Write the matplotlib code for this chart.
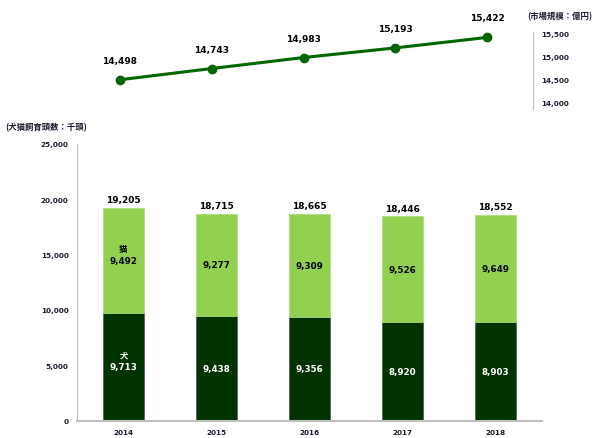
import matplotlib
matplotlib.use("Agg")
import matplotlib.pyplot as plt
from matplotlib.ticker import FuncFormatter

plt.rcParams['font.family'] = ['DejaVu Sans', 'Noto Sans CJK JP']

years = ['2014', '2015', '2016', '2017', '2018']
dogs = [9713, 9438, 9356, 8920, 8903]
cats = [9492, 9277, 9309, 9526, 9649]
totals = [19205, 18715, 18665, 18446, 18552]
market = [14498, 14743, 14983, 15193, 15422]

dog_color = '#003300'
cat_color = '#92D050'
line_color = '#006600'
text_color = '#1a1a2e'
jp = ['Noto Sans CJK JP', 'DejaVu Sans']

fig = plt.figure(figsize=(5.97, 4.39), dpi=100)

# bars: head counts
ax = fig.add_axes([77/597, 17.5/439, 465/597, 276.5/439])
x = range(len(years))
ax.bar(x, dogs, width=0.45, color=dog_color, edgecolor='#4a5a4a', linewidth=0.5)
ax.bar(x, cats, width=0.45, bottom=dogs, color=cat_color, edgecolor='#a8dc78', linewidth=0.5)
ax.set_xlim(-0.5, 4.5)
ax.set_ylim(0, 25000)
ax.set_yticks(range(0, 25001, 5000))
ax.yaxis.set_major_formatter(FuncFormatter(lambda v, p: f'{int(v):,}'))
ax.set_xticks(list(x))
ax.set_xticklabels(years)
ax.tick_params(length=0, labelsize=5.2, colors=text_color, pad=6)
for lab in ax.get_xticklabels() + ax.get_yticklabels():
    lab.set_fontweight('bold')
for s in ['top', 'right']:
    ax.spines[s].set_visible(False)
ax.spines['left'].set_color('#bfbfbf')
ax.spines['bottom'].set_color('#bfbfbf')
ax.spines['bottom'].set_linewidth(1.5)

for i in x:
    ax.text(i, dogs[i] / 2, f'{dogs[i]:,}', ha='center', va='center',
            color='white', fontsize=6.3, fontweight='bold')
    ax.text(i, dogs[i] + cats[i] / 2, f'{cats[i]:,}', ha='center', va='center',
            color='black', fontsize=6.3, fontweight='bold')
    ax.text(i, totals[i] + 350, f'{totals[i]:,}', ha='center', va='bottom',
            color='black', fontsize=6.5, fontweight='bold')
ax.text(0, dogs[0] / 2 + 1100, '犬', ha='center', va='center', color='white',
        fontsize=6, fontweight='bold', family=jp)
ax.text(0, dogs[0] + cats[0] / 2 + 1100, '猫', ha='center', va='center', color='black',
        fontsize=6, fontweight='bold', family=jp)
fig.text(5/597, 1 - 128/439, '(犬猫飼育頭数：千頭)', ha='left', va='center',
         fontsize=6, fontweight='bold', family=jp, color=text_color)

# line: market size
lx = fig.add_axes([74/597, 1 - 110/439, 459/597, 77/439])
lx.plot(list(x), market, color=line_color, linewidth=2.2, marker='o', markersize=6)
lx.set_xlim(-0.5, 4.5)
lx.set_ylim(13860, 15540)
lx.set_yticks(range(14000, 15501, 500))
lx.yaxis.set_major_formatter(FuncFormatter(lambda v, p: f'{int(v):,}'))
lx.yaxis.tick_right()
lx.set_xticks([])
lx.tick_params(length=0, labelsize=5.2, colors=text_color, pad=6)
for lab in lx.get_yticklabels():
    lab.set_fontweight('bold')
for s in ['top', 'left', 'bottom']:
    lx.spines[s].set_visible(False)
lx.spines['right'].set_color('#bfbfbf')
lx.patch.set_alpha(0)
for i in x:
    lx.annotate(f'{market[i]:,}', (i, market[i]), xytext=(0, 14), textcoords='offset points',
                ha='center', va='center', fontsize=6.5, fontweight='bold', color='black')
fig.text(527/597, 1 - 17/439, '(市場規模：億円)', ha='left', va='center',
         fontsize=6, fontweight='bold', family=jp, color=text_color)

fig.savefig('out.png', dpi=100)
